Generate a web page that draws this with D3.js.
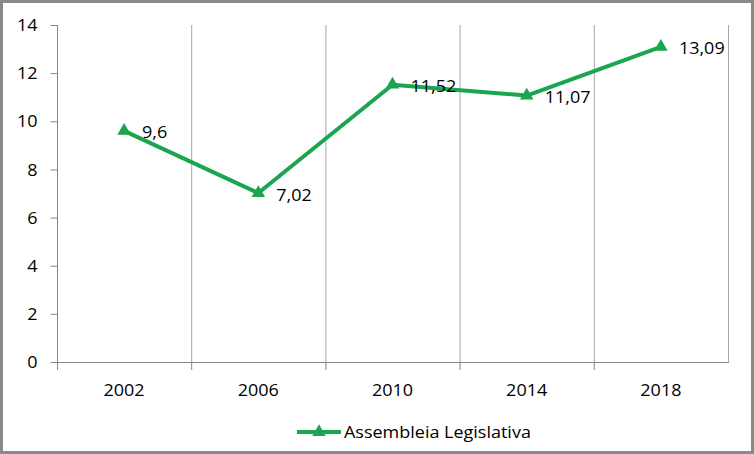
<!DOCTYPE html>
<html><head><meta charset="utf-8">
<script src="https://cdn.jsdelivr.net/npm/d3@7/dist/d3.min.js"></script>
<style>html,body{margin:0;padding:0;background:#fff;}svg{display:block;}text{font-family:"Open Sans",sans-serif;fill:#000;}</style>
</head><body>
<svg id="c" width="754" height="454"></svg>
<script>
const years = ["2002","2006","2010","2014","2018"];
const values = [9.6, 7.02, 11.52, 11.07, 13.09];
const labels = ["9,6","7,02","11,52","11,07","13,09"];
const yTicks = [0,2,4,6,8,10,12,14];
const seriesName = "Assembleia Legislativa";

(function(){
const svg = d3.select("#c");
const W = 754, H = 454;
const pl = 57, pr = 728, pt = 25, pb = 362;
const green = "#1aa64e";
const fs = 15.5, stretch = 1.16;

svg.append("rect").attr("x",1.5).attr("y",1.5).attr("width",W-3).attr("height",H-3)
  .attr("fill","#fff").attr("stroke","#898989").attr("stroke-width",3);

const x = d3.scaleBand().domain(years).range([pl,pr]).padding(0);
const y = d3.scaleLinear().domain([0,14]).range([pb,pt]);

function stretchText(sel){
  sel.each(function(){ const l=this.getComputedTextLength(); d3.select(this).attr("textLength",l*stretch).attr("lengthAdjust","spacingAndGlyphs"); });
}

const bounds = years.slice(1).map(d=>x(d)).concat([pr]);
svg.append("g").selectAll("line").data(bounds).join("line")
  .attr("x1",d=>d+0.5).attr("x2",d=>d+0.5).attr("y1",pt).attr("y2",pb)
  .attr("stroke","#a6a6a6").attr("stroke-width",1);

const ya = svg.append("g").attr("transform",`translate(${pl+0.5},0)`)
  .call(d3.axisLeft(y).tickValues(yTicks).tickSize(7).tickPadding(13).tickSizeOuter(0));
ya.select(".domain").remove();
ya.selectAll(".tick line").attr("stroke","#868686");
ya.selectAll(".tick text").attr("font-size",fs).attr("font-family","Open Sans").attr("fill","#000").attr("dy","0.36em").call(stretchText);
svg.append("line").attr("x1",pl+0.5).attr("x2",pl+0.5).attr("y1",pt).attr("y2",pb+8).attr("stroke","#868686");

svg.append("line").attr("x1",pl).attr("x2",pr+1).attr("y1",pb+0.5).attr("y2",pb+0.5).attr("stroke","#868686");
svg.append("g").selectAll("line").data(years.slice(1).map(d=>x(d))).join("line")
  .attr("x1",d=>d+0.5).attr("x2",d=>d+0.5).attr("y1",pb).attr("y2",pb+8).attr("stroke","#868686");
svg.append("g").selectAll("text").data(years).join("text")
  .attr("x",d=>x(d)+x.bandwidth()/2).attr("y",396).attr("text-anchor","middle")
  .attr("font-size",fs).text(d=>d).call(stretchText);

const pts = years.map((d,i)=>[x(d)+x.bandwidth()/2, y(values[i])]);
svg.append("path").datum(pts).attr("d",d3.line()).attr("fill","none")
  .attr("stroke",green).attr("stroke-width",4).attr("stroke-linejoin","round");
const tri = d3.symbol().type(d3.symbolTriangle).size(80);
svg.append("g").selectAll("path").data(pts).join("path")
  .attr("transform",d=>`translate(${d[0]},${d[1]})`).attr("d",tri).attr("fill",green);
svg.append("g").selectAll("text").data(pts).join("text")
  .attr("x",d=>d[0]+18).attr("y",d=>d[1]+7.5).attr("font-size",fs)
  .text((d,i)=>labels[i]).call(stretchText);

const ly = 432;
svg.append("line").attr("x1",297).attr("x2",341).attr("y1",ly).attr("y2",ly).attr("stroke",green).attr("stroke-width",4);
svg.append("path").attr("transform",`translate(319,${ly})`).attr("d",tri).attr("fill",green);
svg.append("text").attr("x",344).attr("y",437.5).attr("font-size",fs).text(seriesName).call(stretchText);
})();
</script>
</body></html>
